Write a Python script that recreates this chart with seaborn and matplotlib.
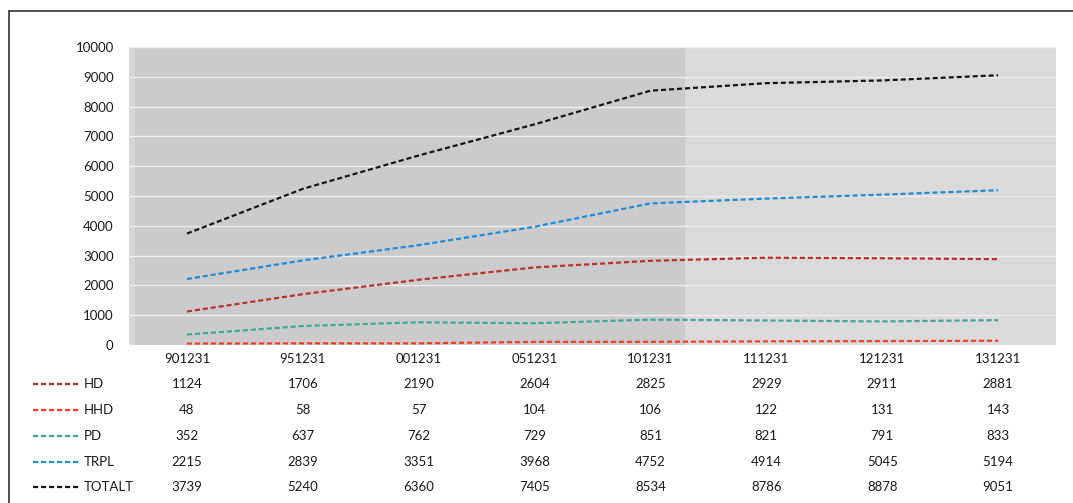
import numpy as np
import pandas as pd
import matplotlib.pyplot as plt
import matplotlib.transforms as mtransforms
from matplotlib.lines import Line2D
import seaborn as sns

# data
dates = ['901231', '951231', '001231', '051231', '101231', '111231', '121231', '131231']
series_names = ['HD', 'HHD', 'PD', 'TRPL', 'TOTALT']
hd = [1124, 1706, 2190, 2604, 2825, 2929, 2911, 2881]
hhd = [48, 58, 57, 104, 106, 122, 131, 143]
pd_vals = [352, 637, 762, 729, 851, 821, 791, 833]
trpl = [2215, 2839, 3351, 3968, 4752, 4914, 5045, 5194]
totalt = [3739, 5240, 6360, 7405, 8534, 8786, 8878, 9051]
colors = ['#b8312b', '#ff3b22', '#3aa898', '#1f8bd8', '#151515']

values = [hd, hhd, pd_vals, trpl, totalt]
pos = np.arange(len(dates))
df = pd.DataFrame({
    'pos': np.tile(pos, len(series_names)),
    'value': np.concatenate(values),
    'series': np.repeat(series_names, len(dates)),
})

sns.set_theme(style='white')
plt.rcParams['font.family'] = ['Lato', 'DejaVu Sans']

fig = plt.figure(figsize=(10.73, 5.03), dpi=100)
ax = fig.add_axes([129 / 1073, 1 - 345 / 503, 927 / 1073, 298 / 503])

ax.set_facecolor('#dadada')
ax.axvspan(-0.5, 4.3, color='#cbcbcb', lw=0, zorder=0)
ax.axvspan(-0.5, -0.45, color='#d6d6d6', lw=0, zorder=0)
for yv in range(1000, 11000, 1000):
    ax.axhline(yv, color='#eeeeee', lw=1.0, zorder=1)

dash = (0, (2.3, 1.3))
for name, col in zip(series_names, colors):
    sns.lineplot(data=df[df['series'] == name], x='pos', y='value', ax=ax,
                 color=col, linewidth=1.6, linestyle=dash, zorder=3)

ax.set_xlim(-0.5, 7.5)
ax.set_ylim(0, 10000)
ax.set_yticks(range(0, 11000, 1000))
ax.set_yticklabels([str(v) for v in range(0, 11000, 1000)], fontsize=9.5, color='#1a1a1a')
ax.tick_params(axis='y', length=0, pad=11)
ax.set_xticks([])
ax.set_xlabel('')
ax.set_ylabel('')
for s in ax.spines.values():
    s.set_visible(False)
if ax.get_legend():
    ax.get_legend().remove()

# data table under the chart
tr = mtransforms.blended_transform_factory(ax.transData, fig.transFigure)
def fy(py):
    return 1 - py / 503

for i, d in enumerate(dates):
    ax.text(i, fy(359), d, transform=tr, ha='center', va='center', fontsize=9.5, color='#1a1a1a')

row_y = [384, 410, 436, 462, 487]
for name, col, vals, ry in zip(series_names, colors, values, row_y):
    fig.add_artist(Line2D([33 / 1073, 80 / 1073], [fy(ry), fy(ry)], transform=fig.transFigure,
                          color=col, lw=1.6, linestyle=dash))
    fig.text(84 / 1073, fy(ry), name, ha='left', va='center', fontsize=9.5, color='#1a1a1a')
    for i, v in enumerate(vals):
        ax.text(i, fy(ry), str(v), transform=tr, ha='center', va='center', fontsize=9.5, color='#1a1a1a')

# outer frame (top and left)
fig.add_artist(Line2D([9 / 1073, 1], [fy(11), fy(11)], transform=fig.transFigure, color='#333333', lw=1.2))
fig.add_artist(Line2D([9 / 1073, 9 / 1073], [fy(11), 0], transform=fig.transFigure, color='#333333', lw=1.2))

fig.savefig('out.png', dpi=100, facecolor='white')
